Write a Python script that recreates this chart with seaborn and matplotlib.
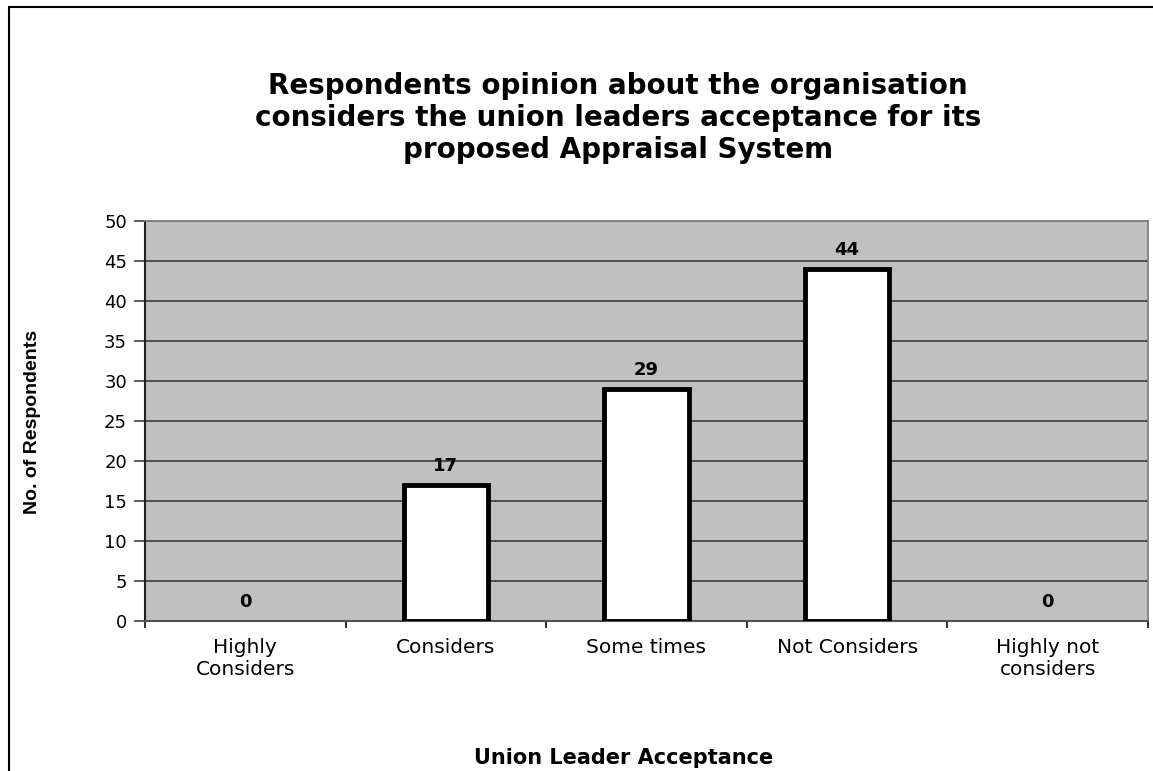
import matplotlib
matplotlib.use("Agg")
import matplotlib.pyplot as plt
from matplotlib.lines import Line2D
import numpy as np
import pandas as pd
import seaborn as sns

# Survey responses per category
categories = ["Highly\nConsiders", "Considers", "Some times", "Not Considers", "Highly not\nconsiders"]
respondents = [0, 17, 29, 44, 0]
y_ticks = list(range(0, 55, 5))

title = ("Respondents opinion about the organisation\n"
         "considers the union leaders acceptance for its\n"
         "proposed Appraisal System")
x_label = "Union Leader Acceptance"
y_label = "No. of Respondents"

df = pd.DataFrame({"category": categories, "respondents": respondents})

sns.set_theme(style="white")
plt.rcParams["font.family"] = ["DejaVu Sans"]

W, H = 1153, 771
fig = plt.figure(figsize=(W / 100, H / 100), dpi=100)
fig.patch.set_facecolor("white")

# Plot area in pixel coordinates
left_px, right_px, top_px, bottom_px = 145, 1148, 221, 621
ax = fig.add_axes([left_px / W, 1 - bottom_px / H,
                   (right_px - left_px) / W, (bottom_px - top_px) / H])
ax.set_facecolor("#C0C0C0")

sns.barplot(data=df, x="category", y="respondents", color="white",
            saturation=1, edgecolor="black", linewidth=3.5, width=0.42,
            ax=ax, zorder=3)

# Empty categories get no outline
for patch, v in zip(ax.patches, respondents):
    if v == 0:
        patch.set_linewidth(0)

ax.bar_label(ax.containers[0], labels=[str(v) for v in respondents],
             padding=7, fontsize=13, fontweight="bold", color="black")

ax.set_ylim(0, 50)
ax.set_xlim(-0.5, len(categories) - 0.5)
ax.set_yticks(y_ticks)
ax.set_yticklabels([str(t) for t in y_ticks], fontsize=13)
ax.yaxis.grid(True, color="#303030", linewidth=1.1, zorder=0)
ax.set_axisbelow(True)

# Category labels centred, tick marks at category boundaries
ax.set_xticks(range(len(categories)))
ax.set_xticklabels(categories, fontsize=14.5, linespacing=1.25)
ax.set_xticks(np.arange(-0.5, len(categories), 1.0), minor=True)
ax.tick_params(axis="x", which="major", length=0, pad=12, colors="black")
ax.tick_params(axis="x", which="minor", length=5, width=1.3, color="#202020",
               direction="out", bottom=True)
ax.tick_params(axis="y", which="major", length=8, width=1.1, color="#303030",
               direction="out", pad=5, left=True, labelcolor="black")

for side, col, lw in [("left", "#202020", 1.5), ("bottom", "#505050", 1.5),
                      ("top", "#808080", 1.3), ("right", "#808080", 1.3)]:
    ax.spines[side].set_visible(True)
    ax.spines[side].set_color(col)
    ax.spines[side].set_linewidth(lw)

ax.set_xlabel("")
ax.set_ylabel("")

fig.text(618 / W, 1 - 118 / H, title, ha="center", va="center",
         fontsize=20, fontweight="bold", linespacing=1.18, color="black")
fig.text(624 / W, 1 - 758 / H, x_label, ha="center", va="center",
         fontsize=15, fontweight="bold", color="black")
fig.text(33 / W, 1 - 422 / H, y_label, ha="center", va="center",
         rotation=90, fontsize=14, fontweight="bold", color="black",
         family=["Liberation Sans", "DejaVu Sans"])

# Chart frame: left and top edges
fig.add_artist(Line2D([8.5 / W, 8.5 / W], [0, 1 - 7 / H], transform=fig.transFigure,
                      color="black", linewidth=1.5))
fig.add_artist(Line2D([8.5 / W, 1], [1 - 7 / H, 1 - 7 / H], transform=fig.transFigure,
                      color="black", linewidth=1.5))

fig.savefig("out.png", dpi=100, facecolor="white")
